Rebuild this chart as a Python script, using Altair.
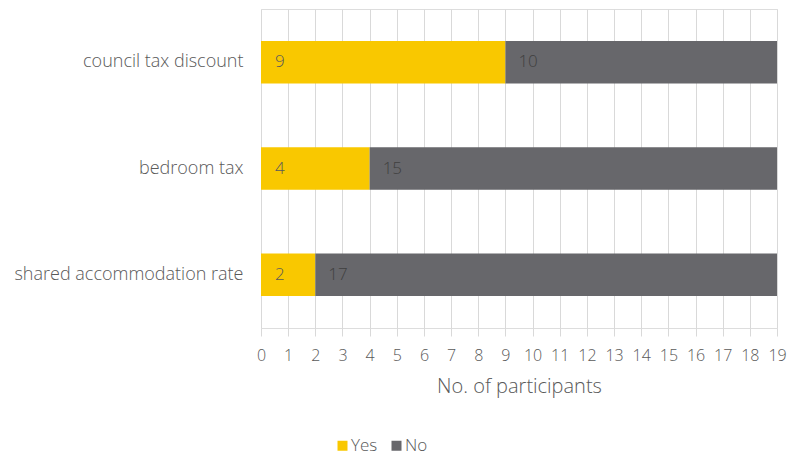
import altair as alt
import pandas as pd

categories = ["council tax discount", "bedroom tax", "shared accommodation rate"]
yes_values = [9, 4, 2]
no_values = [10, 15, 17]
series = ["Yes", "No"]
colors = ["#F9C800", "#67676B"]
x_ticks = list(range(0, 20))

rows = []
for c, y, n in zip(categories, yes_values, no_values):
    rows.append({"cat": c, "series": "Yes", "value": y, "start": 0, "end": y})
    rows.append({"cat": c, "series": "No", "value": n, "start": y, "end": y + n})
df = pd.DataFrame(rows)

FONT = "Open Sans"
LBL = "#595959"

base = alt.Chart(df).encode(
    x=alt.X("start:Q", scale=alt.Scale(domain=[0, 19], nice=False, zero=True),
            title="No. of participants",
            axis=alt.Axis(values=x_ticks, grid=True, gridColor="#D9D9D9",
                          domain=False, ticks=True, tickColor="#D9D9D9",
                          tickSize=8, labelFontSize=16, labelColor=LBL,
                          labelFont=FONT, labelFontWeight=300, labelPadding=11,
                          labelOverlap=False, labelFlush=False, labelBound=False,
                          titleFontSize=20, titleFontWeight=300, titleColor=LBL,
                          titleFont=FONT, titlePadding=13)),
    y=alt.Y("cat:N", sort=categories, title=None,
            scale=alt.Scale(paddingInner=0.6, paddingOuter=0.3),
            axis=alt.Axis(domain=False, ticks=False, labelPadding=18, labelLimit=300,
                          labelFontSize=18, labelColor=LBL, labelFont=FONT,
                          labelFontWeight=300, grid=False)),
)

bars = base.mark_bar().encode(
    x2="end:Q",
    color=alt.Color("series:N", sort=series,
                    scale=alt.Scale(domain=series, range=colors),
                    legend=alt.Legend(title=None, orient="none", direction="horizontal",
                                      legendX=73, legendY=428, symbolType="square",
                                      symbolSize=100, symbolStrokeWidth=0,
                                      labelFontSize=17, labelColor=LBL, labelFont=FONT,
                                      labelFontWeight=300, columnPadding=10,
                                      symbolOffset=0, labelOffset=0)),
)

text_yes = base.mark_text(
    align="left", baseline="middle", dx=14, fontSize=17, font=FONT,
    fontWeight=300, color="#5A5A5A").encode(text="value:Q").transform_filter(
    alt.datum.series == "Yes")
text_no = base.mark_text(
    align="left", baseline="middle", dx=13, fontSize=17, font=FONT,
    fontWeight=300, color="#3F3F3F").encode(text="value:Q").transform_filter(
    alt.datum.series == "No")

chart = alt.layer(bars, text_yes, text_no).properties(
    width=516, height=319,
    autosize=alt.AutoSizeParams(type="none"),
    padding={"left": 261, "top": 9, "right": 10, "bottom": 130},
).configure_view(stroke=None).configure(background="white")

chart.save("out.html", embed_options={"renderer": "svg", "actions": False})
